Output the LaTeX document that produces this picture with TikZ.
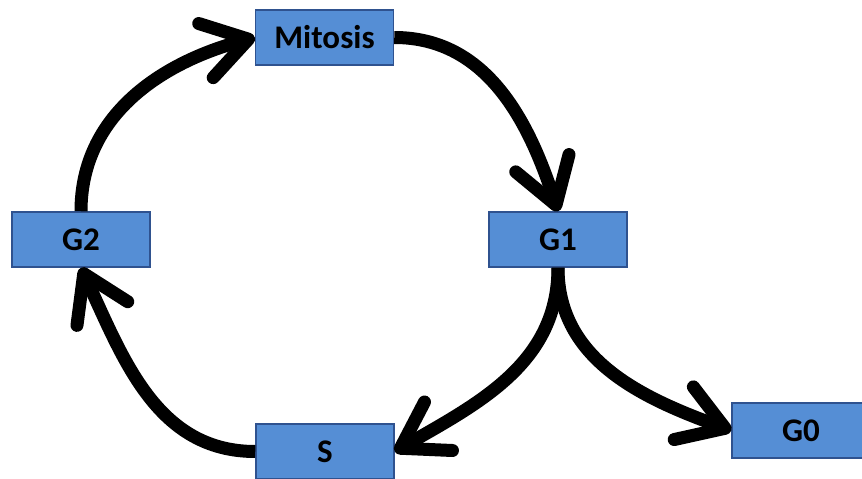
\documentclass[tikz,border=0pt]{standalone}
\usepackage{fontspec}
\setmainfont{Carlito}
\usetikzlibrary{arrows.meta}
\definecolor{phasefill}{RGB}{85,142,213}
\definecolor{phaseline}{RGB}{47,82,143}
\begin{document}
\begin{tikzpicture}[
  % one unit is one pixel of the 862 x 478 frame
  x=0.5pt, y=0.5pt, font=\bfseries\fontsize{16.5}{19}\selectfont,
  phase/.style={draw=phaseline, line width=0.75pt, fill=phasefill,
    minimum width=69pt, minimum height=27.5pt, inner sep=0pt},
  ar/.style={line width=6.5pt, -{Straight Barb[length=22pt, width=28pt, round]}},
]
\useasboundingbox (0,0) rectangle (862,478);
\clip (0,0) rectangle (862,478);
% phases
\node[phase] (mitosis) at (324.5,440.5) {Mitosis};
\node[phase] (g2) at (81,238.5)  {G2};
\node[phase] (g1) at (558,238.5) {G1};
\node[phase] (s)  at (325,26.5)  {S};
\node[phase] (g0) at (801,47.5)  {G0};
% the cycle, and the exit to G0
\draw[ar] (g2.north) to[out=90, in=195] (mitosis.west);
\draw[ar] (mitosis.east) to[out=0, in=108] (g1.north);
\draw[ar] (g1.south) to[out=-90, in=30] (s.east);
\draw[ar] (s.west) to[out=180, in=-65] (g2.south);
\draw[ar] (g1.south) to[out=-90, in=160] (g0.west);
\end{tikzpicture}
\end{document}
